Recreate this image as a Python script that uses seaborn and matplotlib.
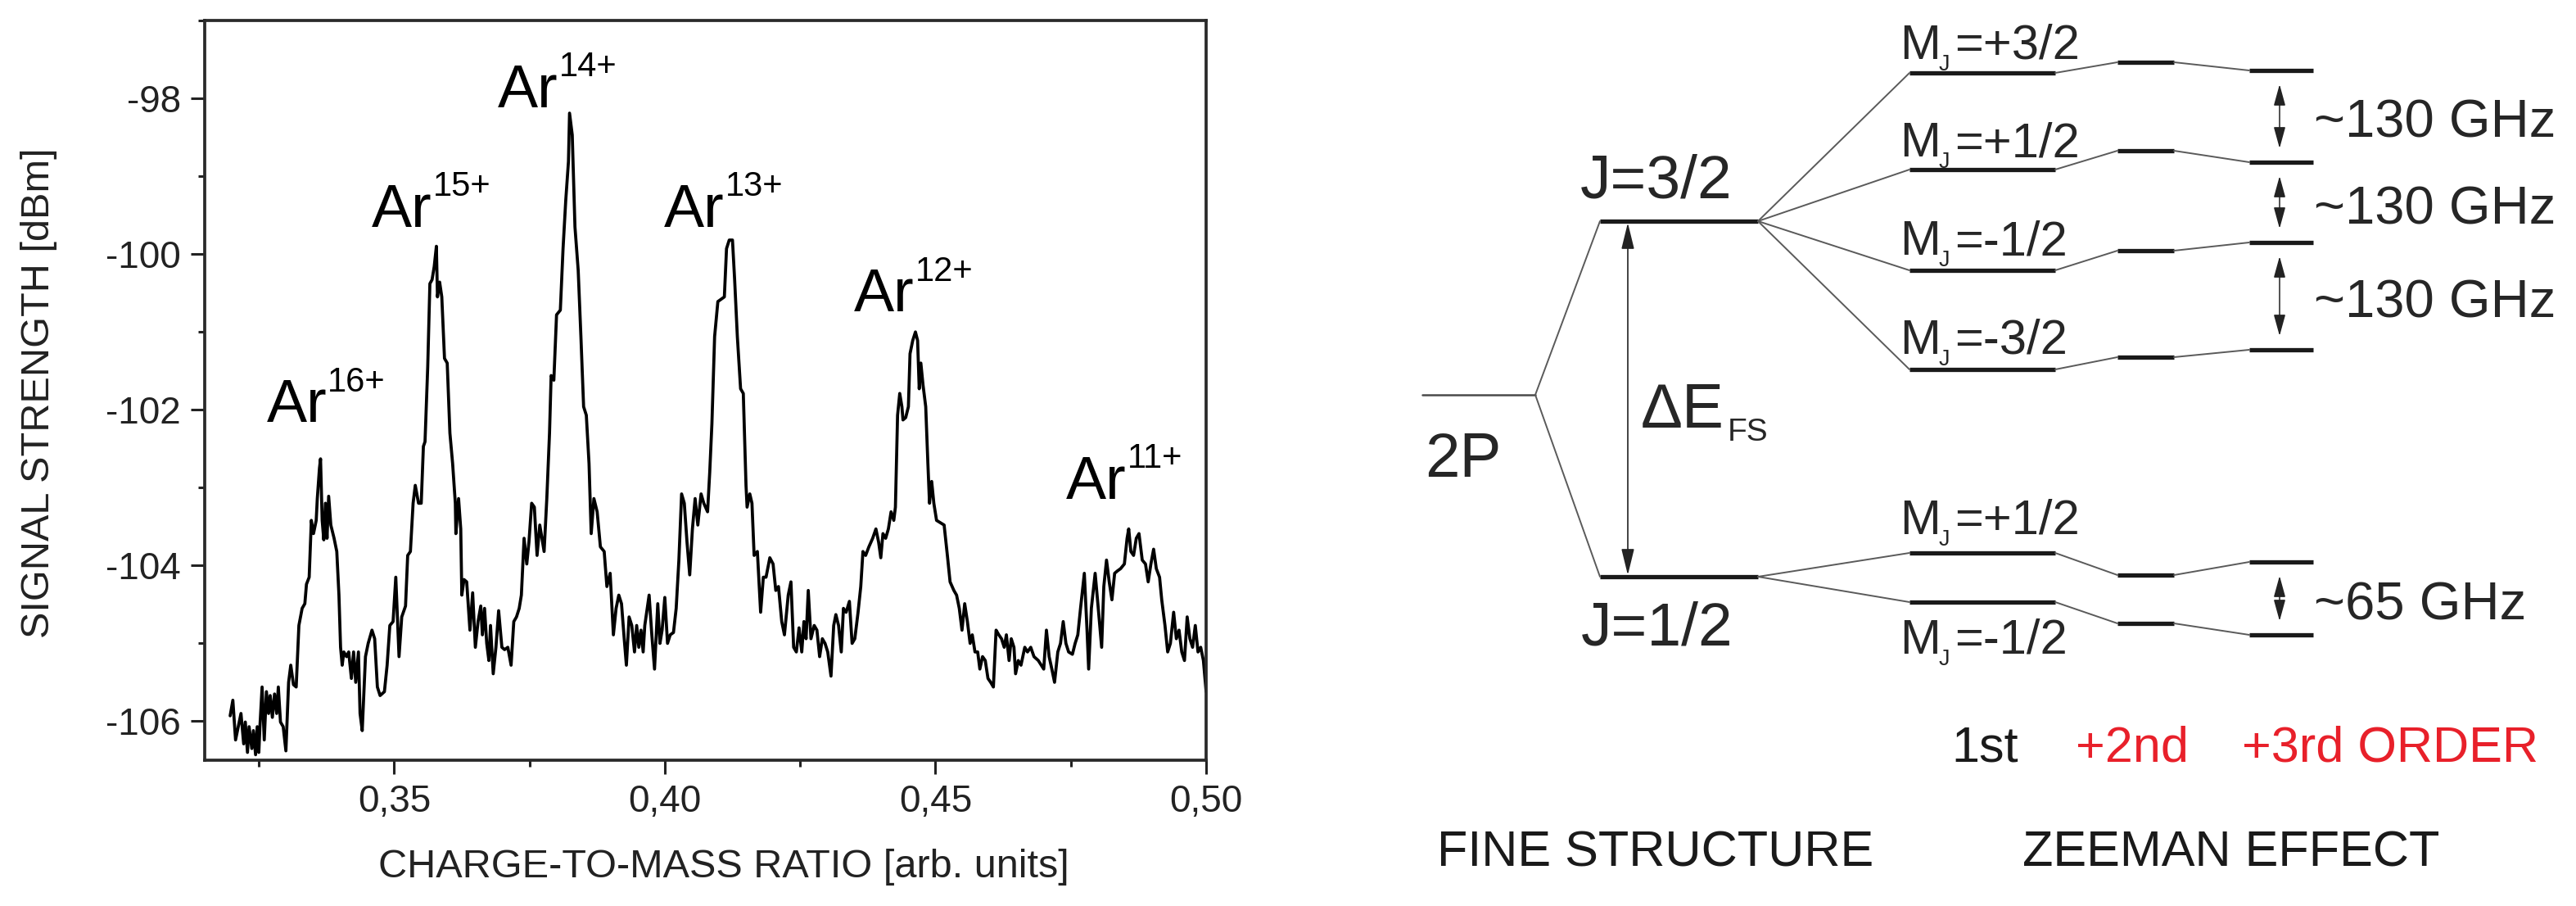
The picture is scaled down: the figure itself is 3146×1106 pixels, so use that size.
import numpy as np
import pandas as pd
import matplotlib
matplotlib.use("Agg")
import matplotlib.pyplot as plt
import seaborn as sns
from matplotlib.ticker import MultipleLocator, FixedLocator, FuncFormatter

# ---------------- spectrum in six pieces ----------------
seg1_x = [0.3197, 0.3202, 0.3207, 0.3212, 0.3217, 0.3222, 0.3225, 0.3229, 0.3232, 0.3237,
          0.3240, 0.3244, 0.3247, 0.3250, 0.3252, 0.3256, 0.3260, 0.3264, 0.3268, 0.3271,
          0.3275, 0.3279, 0.3283, 0.3286, 0.3290, 0.3295, 0.3300, 0.3305, 0.3309, 0.3314,
          0.3319, 0.3324, 0.3330, 0.3335, 0.3338, 0.3343, 0.3347, 0.3351, 0.3356, 0.3358,
          0.3362, 0.3364, 0.3367, 0.3370, 0.3373, 0.3376, 0.3379, 0.3383, 0.3389, 0.3394,
          0.3398, 0.3401, 0.3404, 0.3407, 0.3412, 0.3416, 0.3421, 0.3425, 0.3429, 0.3434,
          0.3437, 0.3441, 0.3447, 0.3452]
seg1_y = [-105.93, -105.73, -106.24, -106.07, -105.90, -106.29, -106.01, -106.40, -106.07, -106.35,
          -106.12, -106.43, -106.07, -106.40, -106.07, -105.56, -106.24, -105.62, -105.90, -105.67,
          -105.95, -105.65, -105.90, -105.56, -106.01, -106.07, -106.38, -105.50, -105.28, -105.53,
          -105.56, -104.77, -104.55, -104.49, -104.24, -104.15, -103.42, -103.59, -103.42, -103.14,
          -102.75, -102.63, -103.42, -103.67, -103.20, -103.65, -103.11, -103.48, -103.65, -103.82,
          -104.38, -105.05, -105.28, -105.11, -105.17, -105.11, -105.45, -105.11, -105.50, -105.11,
          -105.90, -106.12, -105.17, -105.00]

seg2_x = [0.3459, 0.3464, 0.3469, 0.3474, 0.3482, 0.3487, 0.3492, 0.3498, 0.3503, 0.3509,
          0.3514, 0.3521, 0.3525, 0.3530, 0.3535, 0.3539, 0.3545, 0.3550, 0.3554, 0.3557,
          0.3562, 0.3566, 0.3570, 0.3574, 0.3578, 0.3580, 0.3584, 0.3588, 0.3593, 0.3598,
          0.3603, 0.3608, 0.3613, 0.3614, 0.3619, 0.3623, 0.3625, 0.3629, 0.3634, 0.3640,
          0.3645, 0.3650, 0.3655, 0.3660, 0.3663, 0.3667, 0.3671, 0.3675, 0.3678, 0.3683,
          0.3688, 0.3693, 0.3699, 0.3704, 0.3710, 0.3716, 0.3721, 0.3726, 0.3731, 0.3735,
          0.3740, 0.3745, 0.3749, 0.3754, 0.3759, 0.3764]
seg2_y = [-104.83, -104.94, -105.56, -105.67, -105.62, -105.28, -104.77, -104.72, -104.15, -105.17,
          -104.66, -104.52, -103.87, -103.82, -103.20, -102.97, -103.20, -103.20, -102.47, -102.41,
          -101.45, -100.38, -100.33, -100.16, -99.90, -100.55, -100.36, -100.55, -101.34, -101.40,
          -102.30, -102.69, -103.20, -103.59, -103.14, -103.53, -104.38, -104.18, -104.21, -104.83,
          -104.35, -105.05, -104.72, -104.52, -104.89, -104.55, -105.00, -105.22, -104.77, -105.39,
          -105.05, -104.58, -105.05, -105.08, -105.05, -105.28, -104.72, -104.66, -104.55, -104.38,
          -103.65, -103.98, -103.70, -103.20, -103.25, -103.87]

seg3_x = [0.3769, 0.3773, 0.3777, 0.3782, 0.3787, 0.3790, 0.3795, 0.3800, 0.3807, 0.3812,
          0.3817, 0.3822, 0.3824, 0.3829, 0.3834, 0.3840, 0.3845, 0.3850, 0.3855, 0.3860,
          0.3864, 0.3869, 0.3875, 0.3881, 0.3888, 0.3893, 0.3899, 0.3905, 0.3910, 0.3915,
          0.3920, 0.3925, 0.3929, 0.3934, 0.3939, 0.3944, 0.3948, 0.3952, 0.3956, 0.3960,
          0.3963, 0.3971, 0.3976, 0.3981, 0.3987, 0.3991, 0.3995, 0.4000, 0.4005, 0.4010,
          0.4016, 0.4021, 0.4026, 0.4031, 0.4036, 0.4041, 0.4046, 0.4051, 0.4056, 0.4061,
          0.4067, 0.4072]
seg3_y = [-103.48, -103.65, -103.82, -103.14, -102.30, -101.56, -101.62, -100.78, -100.72, -99.93,
          -99.31, -98.81, -98.19, -98.47, -99.65, -100.21, -101.06, -101.96, -102.07, -102.69,
          -103.59, -103.14, -103.31, -103.76, -103.82, -104.27, -104.10, -104.89, -104.55, -104.38,
          -104.49, -104.94, -105.28, -104.66, -104.77, -105.11, -104.77, -105.05, -104.83, -105.11,
          -104.77, -104.38, -104.89, -105.33, -104.49, -105.00, -104.83, -104.41, -105.00, -104.89,
          -104.86, -104.55, -103.93, -103.08, -103.20, -103.70, -104.12, -103.53, -103.14, -103.48,
          -103.08, -103.20]

seg4_x = [0.4079, 0.4083, 0.4087, 0.4092, 0.4098, 0.4104, 0.4110, 0.4114, 0.4119, 0.4125,
          0.4129, 0.4134, 0.4140, 0.4145, 0.4150, 0.4152, 0.4157, 0.4161, 0.4165, 0.4171,
          0.4177, 0.4182, 0.4187, 0.4194, 0.4200, 0.4205, 0.4210, 0.4216, 0.4221, 0.4228,
          0.4233, 0.4238, 0.4243, 0.4248, 0.4253, 0.4257, 0.4261, 0.4265, 0.4270, 0.4276,
          0.4281, 0.4286, 0.4291, 0.4296, 0.4301, 0.4307, 0.4312, 0.4316, 0.4321, 0.4326,
          0.4330, 0.4335, 0.4341, 0.4346, 0.4351, 0.4357, 0.4362, 0.4366, 0.4371, 0.4377,
          0.4384]
seg4_y = [-103.31, -102.80, -102.18, -101.06, -100.61, -100.58, -100.55, -99.93, -99.82, -99.82,
          -100.33, -101.06, -101.73, -101.79, -102.97, -103.25, -103.08, -103.20, -103.87, -103.82,
          -104.60, -104.15, -104.15, -103.90, -103.98, -104.32, -104.27, -104.72, -104.89, -104.38,
          -104.21, -105.05, -105.11, -104.80, -105.11, -104.72, -104.94, -104.32, -104.94, -104.77,
          -104.83, -105.17, -104.94, -105.00, -105.11, -105.42, -104.77, -104.63, -104.77, -105.11,
          -104.55, -104.60, -104.46, -105.00, -104.94, -104.60, -104.27, -103.82, -103.87, -103.76,
          -103.65]

seg5_x = [0.4390, 0.4395, 0.4399, 0.4403, 0.4408, 0.4413, 0.4418, 0.4423, 0.4426, 0.4430,
          0.4434, 0.4438, 0.4440, 0.4445, 0.4450, 0.4453, 0.4458, 0.4463, 0.4467, 0.4470,
          0.4473, 0.4477, 0.4482, 0.4486, 0.4489, 0.4493, 0.4497, 0.4502, 0.4509, 0.4516,
          0.4522, 0.4527, 0.4534, 0.4539, 0.4544, 0.4549, 0.4554, 0.4559, 0.4564, 0.4568,
          0.4573, 0.4578, 0.4582, 0.4587, 0.4592, 0.4597, 0.4602, 0.4607, 0.4612, 0.4617,
          0.4622, 0.4627, 0.4631, 0.4636, 0.4640, 0.4645, 0.4648, 0.4653, 0.4658, 0.4665,
          0.4670, 0.4676, 0.4682, 0.4690]
seg5_y = [-103.53, -103.70, -103.90, -103.59, -103.65, -103.53, -103.31, -103.42, -103.25, -102.07,
          -101.79, -101.96, -102.13, -102.10, -101.96, -101.28, -101.11, -101.00, -101.11, -101.73,
          -101.40, -101.68, -101.96, -102.69, -103.20, -102.92, -103.20, -103.42, -103.45, -103.48,
          -103.87, -104.21, -104.32, -104.38, -104.55, -104.83, -104.49, -104.72, -105.00, -104.89,
          -105.11, -105.11, -105.33, -105.17, -105.22, -105.45, -105.50, -105.56, -104.83, -104.89,
          -104.94, -105.05, -104.89, -105.22, -104.94, -105.05, -105.39, -105.22, -105.28, -105.05,
          -105.11, -105.05, -105.17, -105.22]

seg6_x = [0.4700, 0.4705, 0.4710, 0.4715, 0.4720, 0.4726, 0.4731, 0.4736, 0.4741, 0.4746,
          0.4753, 0.4758, 0.4763, 0.4768, 0.4775, 0.4780, 0.4783, 0.4788, 0.4795, 0.4800,
          0.4807, 0.4811, 0.4816, 0.4821, 0.4826, 0.4831, 0.4836, 0.4842, 0.4849, 0.4854,
          0.4857, 0.4861, 0.4866, 0.4871, 0.4876, 0.4882, 0.4888, 0.4893, 0.4898, 0.4903,
          0.4908, 0.4914, 0.4918, 0.4924, 0.4929, 0.4934, 0.4940, 0.4945, 0.4950, 0.4955,
          0.4960, 0.4965, 0.4970, 0.4975, 0.4980, 0.4985, 0.4990, 0.4995, 0.5000]
seg6_y = [-105.33, -104.83, -105.17, -105.33, -105.50, -105.11, -105.00, -104.72, -105.00, -105.11,
          -105.14, -105.00, -104.89, -104.55, -104.10, -104.83, -105.33, -104.55, -104.10, -104.49,
          -105.05, -104.27, -103.93, -104.21, -104.44, -104.10, -104.07, -104.04, -103.98, -103.65,
          -103.53, -103.82, -103.87, -103.65, -103.59, -103.93, -103.98, -104.21, -103.98, -103.79,
          -104.04, -104.15, -104.44, -104.77, -105.11, -105.00, -104.60, -104.94, -104.83, -105.11,
          -105.22, -104.66, -104.94, -105.05, -104.77, -105.11, -105.05, -105.22, -105.62]

# peak labels: ion charge, x and y of the "Ar" baseline
ion_charges = ["16+", "15+", "14+", "13+", "12+", "11+"]
ion_x = [0.3264, 0.3459, 0.3692, 0.3998, 0.4349, 0.4741]
ion_y = [-102.16, -99.65, -98.11, -99.65, -100.74, -103.14]

x_ticks = [0.35, 0.40, 0.45, 0.50]
y_ticks = [-106, -104, -102, -100, -98]

# ---------------- level diagram (diagram units, y grows downward) ----------------
level_2p = 482
level_j = [270, 704]                     # J=3/2, J=1/2
j_names = ["J=3/2", "J=1/2"]
mj_32 = ["+3/2", "+1/2", "-1/2", "-3/2"]
mj_12 = ["+1/2", "-1/2"]
zeeman_32 = {"1st": [89, 207, 330, 451], "2nd": [76, 184, 306, 436], "3rd": [86, 198, 296, 427]}
zeeman_12 = {"1st": [675, 735], "2nd": [702, 761], "3rd": [686, 775]}
col_x = {"2P": (1737, 1875), "J": (1954, 2147), "1st": (2332, 2510), "2nd": (2586, 2655), "3rd": (2747, 2825)}
split_32 = ["~130 GHz", "~130 GHz", "~130 GHz"]
split_12 = ["~65 GHz"]

sns.set_theme(style="ticks")
plt.rcParams["font.family"] = ["Liberation Sans", "DejaVu Sans"]
plt.rcParams["axes.unicode_minus"] = False

W, H = 3146, 1106
fig = plt.figure(figsize=(W / 100, H / 100), dpi=100)
fig.patch.set_facecolor("white")

# ---------------- left: spectrum ----------------
ax = fig.add_axes([250 / W, 1 - 928 / H, (1473 - 250) / W, (928 - 25) / H])
spec = pd.DataFrame({
    "ratio": np.concatenate([seg1_x, seg2_x, seg3_x, seg4_x, seg5_x, seg6_x]),
    "dbm": np.concatenate([seg1_y, seg2_y, seg3_y, seg4_y, seg5_y, seg6_y]),
})
sns.lineplot(data=spec, x="ratio", y="dbm", ax=ax, color="black", lw=2.7,
             estimator=None, sort=False)
ax.set_xlim(0.315, 0.5)
ax.set_ylim(-106.5, -97.0)
ax.xaxis.set_major_locator(FixedLocator(x_ticks))
ax.xaxis.set_minor_locator(MultipleLocator(0.025))
ax.yaxis.set_major_locator(FixedLocator(y_ticks))
ax.yaxis.set_minor_locator(MultipleLocator(1))
ax.xaxis.set_major_formatter(FuncFormatter(lambda v, p: f"{v:.2f}".replace(".", ",")))
ax.yaxis.set_major_formatter(FuncFormatter(lambda v, p: f"{v:.0f}"))
ax.tick_params(which="major", direction="out", length=12, width=2.2, labelsize=33, pad=9,
               colors="#222222")
ax.tick_params(which="minor", direction="out", length=6, width=2.2, colors="#222222")
for s in ax.spines.values():
    s.set_visible(True)
    s.set_linewidth(2.7)
    s.set_color("#2a2a2a")
ax.set_xlabel("CHARGE-TO-MASS RATIO [arb. units]", fontsize=35, color="#222222")
ax.set_ylabel("SIGNAL STRENGTH [dBm]", fontsize=35, color="#222222")
ax.xaxis.set_label_coords(0.518, -0.12)
ax.yaxis.set_label_coords(-0.147, 0.497)

for q, xq, yq in zip(ion_charges, ion_x, ion_y):
    ax.text(xq, yq, "Ar", fontsize=53, va="baseline", ha="left", color="black")
    ax.annotate(q, (xq, yq), xytext=(54, 27), textcoords="offset points",
                fontsize=30, va="baseline", ha="left", color="black")

# ---------------- right: level diagram ----------------
dx0 = 1650
ax2 = fig.add_axes([dx0 / W, 0, 1 - dx0 / W, 1])
ax2.set_xlim(dx0, W)
ax2.set_ylim(H, 0)
ax2.axis("off")

thick = dict(color="#1a1a1a", lw=3.8, solid_capstyle="butt")
thin = dict(color="#5a5a5a", lw=1.4)

# 2P and fine-structure levels
ax2.plot(col_x["2P"], [level_2p, level_2p], color="#4a4a4a", lw=1.8)
for lj in level_j:
    ax2.plot(col_x["J"], [lj, lj], **thick)
    ax2.plot([col_x["2P"][1], col_x["J"][0]], [level_2p, lj], **thin)
ax2.text(1740, 582, "2P", fontsize=55, va="baseline")
ax2.text(1930, 242, j_names[0], fontsize=54, va="baseline")
ax2.text(1931, 787, j_names[1], fontsize=54, va="baseline")

# fine-structure splitting arrow
ax2.annotate("", xy=(1988, level_j[0] + 2), xytext=(1988, level_j[1] - 2),
             arrowprops=dict(arrowstyle="<|-|>,head_length=0.9,head_width=0.22",
                             mutation_scale=22, lw=1.2, color="#222222",
                             shrinkA=0, shrinkB=0))
ax2.text(2004, 522, "ΔE", fontsize=55, va="baseline")
ax2.text(2110, 538, "FS", fontsize=28, va="baseline")


def mj_label(x, y, value, size=43):
    ax2.text(x, y, "M", fontsize=size, va="baseline")
    ax2.annotate("J", (x, y), xytext=(size * 0.80, -size * 0.24), textcoords="offset points",
                 fontsize=size * 0.45, va="baseline")
    ax2.annotate("=" + value, (x, y), xytext=(size * 1.12, 0), textcoords="offset points",
                 fontsize=size, va="baseline")


def zeeman(j_level, levels, names, label_off):
    cols = ["1st", "2nd", "3rd"]
    for c in cols:
        for lv in levels[c]:
            ax2.plot(col_x[c], [lv, lv], **thick)
    for lv in levels["1st"]:
        ax2.plot([col_x["J"][1], col_x["1st"][0]], [j_level, lv], **thin)
    for a, b in zip(cols[:-1], cols[1:]):
        for la, lb in zip(levels[a], levels[b]):
            ax2.plot([col_x[a][1], col_x[b][0]], [la, lb], **thin)
    for lv, nm, off in zip(levels["1st"], names, label_off):
        mj_label(2320, lv + off, nm)


zeeman(level_j[0], zeeman_32, mj_32, [-17, -16, -19, -19])
zeeman(level_j[1], zeeman_12, mj_12, [-23, 63])


def gap_arrows(levels, labels):
    for top, bot, lab in zip(levels[:-1], levels[1:], labels):
        ax2.annotate("", xy=(2784, top + 17), xytext=(2784, bot - 17),
                     arrowprops=dict(arrowstyle="<|-|>,head_length=0.8,head_width=0.22",
                                     mutation_scale=20, lw=1.1, color="#222222",
                                     shrinkA=0, shrinkB=0))
        ax2.text(2826, (top + bot) / 2 + 26, lab, fontsize=47, va="baseline")


gap_arrows(zeeman_32["3rd"], split_32)
gap_arrows(zeeman_12["3rd"], split_12)

red = "#e8202a"
ax2.text(2383, 930, "1st", fontsize=44, va="baseline", color="#1a1a1a")
ax2.text(2535, 930, "+2nd", fontsize=44, va="baseline", color=red)
ax2.text(2738, 930, "+3rd ORDER", fontsize=44, va="baseline", color=red)
ax2.text(1755, 1058, "FINE STRUCTURE", fontsize=44, va="baseline", color="#1a1a1a")
ax2.text(2470, 1058, "ZEEMAN EFFECT", fontsize=44, va="baseline", color="#1a1a1a")

fig.savefig("out.png", dpi=100, facecolor="white")
